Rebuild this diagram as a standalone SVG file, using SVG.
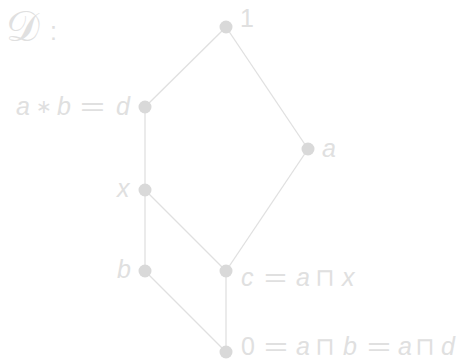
<svg xmlns="http://www.w3.org/2000/svg" width="469" height="360" viewBox="0 0 469 360">
<style>
.e{stroke:#e0e0e0;stroke-width:1.3;fill:none}
.n{fill:#d9d9d9}
.t{fill:#e0e0e0;font-family:"Liberation Sans",Arial,sans-serif;font-size:25px}
.i{font-style:italic}
.o{font-family:"DejaVu Sans",sans-serif;font-style:normal;font-size:25px}
.s{font-family:"DejaVu Sans",sans-serif;font-style:normal;font-size:19px}
.q{fill:#e0e0e0;font-family:"Liberation Sans",Arial,sans-serif;font-size:25px}
</style>
<rect width="469" height="360" fill="#fff"/>
<g id="connectors">
<line class="e" x1="226" y1="27" x2="145" y2="107"/>
<line class="e" x1="226" y1="27" x2="308" y2="149"/>
<line class="e" x1="145" y1="107" x2="145" y2="190"/>
<line class="e" x1="145" y1="190" x2="145" y2="271"/>
<line class="e" x1="145" y1="190" x2="226" y2="271"/>
<line class="e" x1="308" y1="149" x2="226" y2="271"/>
<line class="e" x1="145" y1="271" x2="226" y2="352"/>
<line class="e" x1="226" y1="271" x2="226" y2="352"/>
</g>
<g id="title"><text class="t" x="6" y="41" style="font-family:'DejaVu Serif',serif;font-size:42px">𝒟</text><text class="t" x="50" y="40">:</text></g>
<g id="n1"><circle class="n" cx="226" cy="27" r="6.5"/><text class="t" x="240" y="27">1</text></g>
<g id="nd"><circle class="n" cx="145" cy="107" r="6.5"/><text class="t i" y="115"><tspan x="16">a</tspan><tspan class="s" x="36" y="113">∗</tspan><tspan x="57" y="115">b</tspan></text><text class="q" x="80" y="115" textLength="25" lengthAdjust="spacingAndGlyphs">=</text><text class="t i" x="116" y="115">d</text></g>
<g id="na"><circle class="n" cx="308" cy="149" r="6.5"/><text class="t i" x="322" y="157">a</text></g>
<g id="nx"><circle class="n" cx="145" cy="190" r="6.5"/><text class="t i" x="117" y="197">x</text></g>
<g id="nb"><circle class="n" cx="145" cy="271" r="6.5"/><text class="t i" x="117" y="278">b</text></g>
<g id="nc"><circle class="n" cx="226" cy="271" r="6.5"/><text class="t i" x="241" y="286">c</text><text class="q" x="264" y="286" textLength="23" lengthAdjust="spacingAndGlyphs">=</text><text class="t i" y="286"><tspan x="296">a</tspan><tspan class="o" x="315">⊓</tspan><tspan x="342">x</tspan></text></g>
<g id="n0"><circle class="n" cx="226" cy="352" r="6.5"/><text class="t" x="241" y="355">0</text><text class="q" x="264" y="355" textLength="24" lengthAdjust="spacingAndGlyphs">=</text><text class="t i" y="355"><tspan x="296">a</tspan><tspan class="o" x="315">⊓</tspan><tspan x="343">b</tspan></text><text class="q" x="367" y="355" textLength="24" lengthAdjust="spacingAndGlyphs">=</text><text class="t i" y="355"><tspan x="398">a</tspan><tspan class="o" x="415">⊓</tspan><tspan x="441">d</tspan></text></g>
</svg>
